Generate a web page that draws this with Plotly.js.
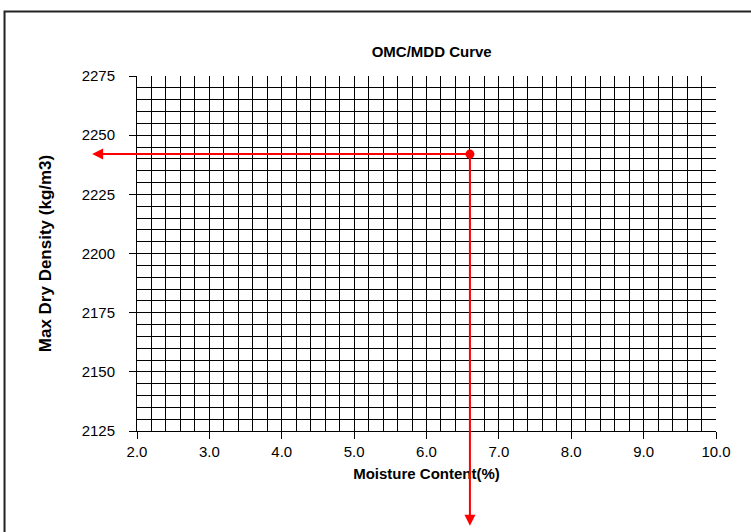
<!DOCTYPE html>
<html>
<head>
<meta charset="utf-8">
<script src="https://cdn.plot.ly/plotly-3.0.1.min.js"></script>
<style>
  html, body { margin: 0; padding: 0; background: #ffffff; }
  #chart { width: 751px; height: 532px; }
</style>
</head>
<body>
<div id="chart"></div>
<script>
// ---- data ----
var omc = [6.6];          // optimum moisture content (%)
var mdd = [2242];         // maximum dry density (kg/m3)

// axis ranges and ticks
var xRange = [2.0, 10.0];
var yRange = [2125, 2275];
var xMajorTicks = [2, 3, 4, 5, 6, 7, 8, 9, 10];
var xTickLabels = ['2.0', '3.0', '4.0', '5.0', '6.0', '7.0', '8.0', '9.0', '10.0'];
var yMajorTicks = [2125, 2150, 2175, 2200, 2225, 2250, 2275];
var yTickLabels = ['2125', '2150', '2175', '2200', '2225', '2250', '2275'];

// grid line positions (no line on the top and right edges)
var xGrid = [2.0, 2.2, 2.4, 2.6, 2.8, 3.0, 3.2, 3.4, 3.6, 3.8,
             4.0, 4.2, 4.4, 4.6, 4.8, 5.0, 5.2, 5.4, 5.6, 5.8,
             6.0, 6.2, 6.4, 6.6, 6.8, 7.0, 7.2, 7.4, 7.6, 7.8,
             8.0, 8.2, 8.4, 8.6, 8.8, 9.0, 9.2, 9.4, 9.6, 9.8];
var yGrid = [2125, 2130, 2135, 2140, 2145, 2150, 2155, 2160, 2165, 2170,
             2175, 2180, 2185, 2190, 2195, 2200, 2205, 2210, 2215, 2220,
             2225, 2230, 2235, 2240, 2245, 2250, 2255, 2260, 2265, 2270];

// where the read-off arrows end (outside the plot area)
var arrowLeftX = 1.38;
var arrowDownY = 2085;

var font = 'Liberation Sans, Arial, sans-serif';

var traces = [
  {x: [null], y: [null], type: 'scatter', mode: 'markers', xaxis: 'x', yaxis: 'y',
   hoverinfo: 'skip', showlegend: false},
  {x: omc, y: mdd, type: 'scatter', mode: 'markers', xaxis: 'x2', yaxis: 'y2',
   marker: {color: '#ff0000', size: 9}, showlegend: false, cliponaxis: false}
];

var layout = {
  width: 751, height: 532,
  paper_bgcolor: '#ffffff', plot_bgcolor: '#ffffff',
  margin: {l: 137, r: 35, t: 76, b: 101, pad: 0},
  showlegend: false,
  font: {family: font, color: '#000000', size: 15},
  title: {text: '<b>OMC/MDD Curve</b>', font: {family: font, size: 15, color: '#000'},
          xref: 'paper', x: 0.509, xanchor: 'center', yref: 'container', y: 0.903, yanchor: 'middle'},
  xaxis: {range: xRange, tickmode: 'array', tickvals: xGrid, showticklabels: false, ticks: '',
          showgrid: true, gridcolor: '#000000', gridwidth: 1, zeroline: false, showline: false, fixedrange: true},
  yaxis: {range: yRange, tickmode: 'array', tickvals: yGrid, showticklabels: false, ticks: '',
          showgrid: true, gridcolor: '#000000', gridwidth: 1, zeroline: false, showline: false, fixedrange: true},
  xaxis2: {overlaying: 'x', anchor: 'y', side: 'bottom', range: xRange,
           tickmode: 'array', tickvals: xMajorTicks, ticktext: xTickLabels,
           ticks: 'outside', ticklen: 7, tickwidth: 1, tickcolor: '#000', ticklabelstandoff: 0,
           showline: true, linecolor: '#000', linewidth: 1, showgrid: false, zeroline: false,
           tickfont: {family: font, size: 15, color: '#000'},
           title: {text: '<b>Moisture Content(%)</b>', font: {family: font, size: 15, color: '#000'}, standoff: 9}},
  yaxis2: {overlaying: 'y', anchor: 'x', side: 'left', range: yRange,
           tickmode: 'array', tickvals: yMajorTicks, ticktext: yTickLabels,
           ticks: 'outside', ticklen: 7, tickwidth: 1, tickcolor: '#000', ticklabelstandoff: 11,
           showline: true, linecolor: '#000', linewidth: 1, showgrid: false, zeroline: false,
           tickfont: {family: font, size: 15, color: '#000'},
           title: {text: '<b>Max Dry Density (kg/m3)</b>', font: {family: font, size: 17, color: '#000'}, standoff: 25}},
  shapes: [
    {type: 'rect', xref: 'paper', yref: 'paper', x0: -0.2288, x1: 1.2, y0: -0.5, y1: 1.1817,
     line: {color: '#222222', width: 2}, fillcolor: 'rgba(0,0,0,0)', layer: 'below'}
  ],
  annotations: [
    {xref: 'x2', yref: 'y2', axref: 'x2', ayref: 'y2', x: arrowLeftX, y: mdd[0], ax: omc[0], ay: mdd[0],
     text: '', showarrow: true, arrowhead: 2, arrowsize: 1.1, arrowwidth: 2, arrowcolor: '#ff0000', standoff: 0, startstandoff: 0},
    {xref: 'x2', yref: 'y2', axref: 'x2', ayref: 'y2', x: omc[0], y: arrowDownY, ax: omc[0], ay: mdd[0],
     text: '', showarrow: true, arrowhead: 2, arrowsize: 1.1, arrowwidth: 2, arrowcolor: '#ff0000', standoff: 0, startstandoff: 0}
  ]
};

Plotly.newPlot('chart', traces, layout, {staticPlot: true, displayModeBar: false});
</script>
</body>
</html>
